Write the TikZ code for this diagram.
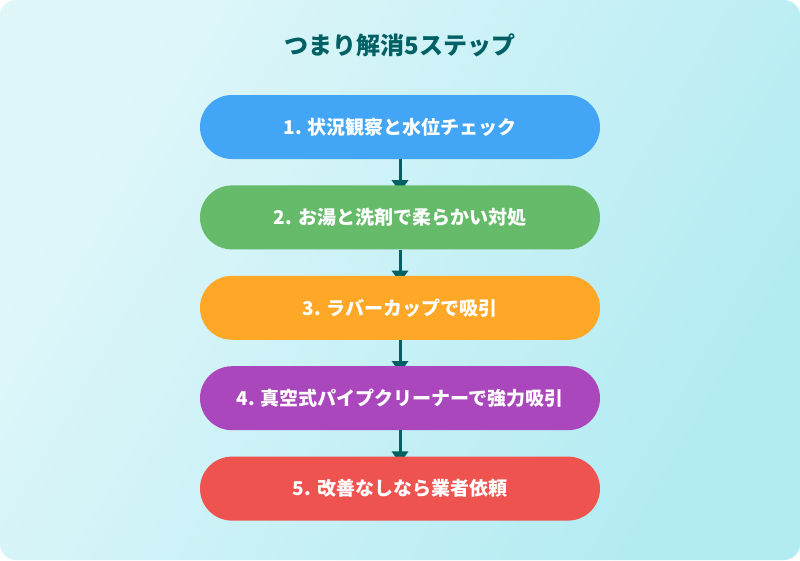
\documentclass[tikz,border=0pt]{standalone}
\usepackage{fontspec}
\setmainfont{Noto Sans CJK JP}
\usetikzlibrary{arrows.meta,positioning,backgrounds}

\definecolor{bgtop}{HTML}{E0F7FA}
\definecolor{bgbot}{HTML}{B2EBF2}
\definecolor{darkteal}{HTML}{006064}
\definecolor{stepblue}{HTML}{42A5F5}
\definecolor{stepgreen}{HTML}{66BB6A}
\definecolor{steporange}{HTML}{FFA726}
\definecolor{steppurple}{HTML}{AB47BC}
\definecolor{stepred}{HTML}{EF5350}

\begin{document}
\begin{tikzpicture}[x=1pt,y=-1pt,
        stepbox/.style={rounded corners=32pt,minimum width=400pt,minimum height=64pt,
            inner sep=0pt,text=white,font=\fontsize{19}{23}\selectfont\bfseries},
        flow/.style={-{Triangle[width=16pt,length=12pt]},line width=3pt,draw=darkteal,
            shorten >=-7pt}]
        \useasboundingbox (0,0) rectangle (800,560);

        %%%% Title ======================================
        \node[text=darkteal,font=\fontsize{24}{28}\selectfont\bfseries] (title) at (400,45) {つまり解消5ステップ};

        %%%% Steps ======================================
        \node[stepbox,fill=stepblue] (s1) at (400,127) {1. 状況観察と水位チェック};
        \node[stepbox,fill=stepgreen,below=26pt of s1] (s2) {2. お湯と洗剤で柔らかい対処};
        \node[stepbox,fill=steporange,below=26pt of s2] (s3) {3. ラバーカップで吸引};
        \node[stepbox,fill=steppurple,below=26pt of s3] (s4) {4. 真空式パイプクリーナーで強力吸引};
        \node[stepbox,fill=stepred,below=26pt of s4] (s5) {5. 改善なしなら業者依頼};

        %%%% Background and arcs ========================
        \begin{scope}[on background layer]
            \shade[rounded corners=16pt,left color=bgtop,right color=bgbot,shading angle=60]
                (0,0) rectangle (800,560);

            % Arcs
            \draw[flow] (s1) -- (s2);
            \draw[flow] (s2) -- (s3);
            \draw[flow] (s3) -- (s4);
            \draw[flow] (s4) -- (s5);
        \end{scope}
    \end{tikzpicture}
\end{document}
